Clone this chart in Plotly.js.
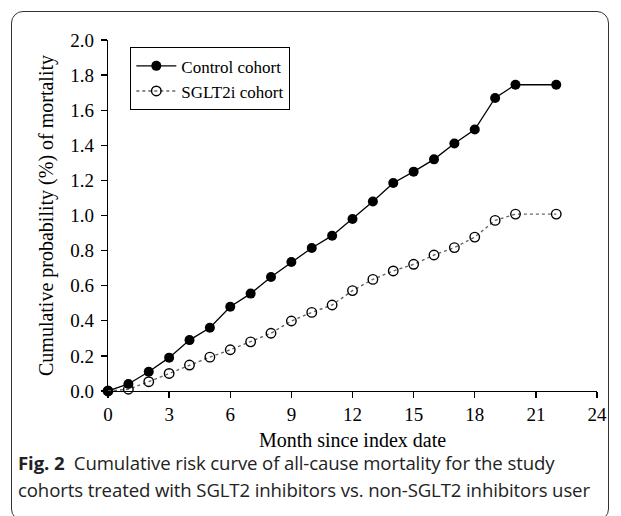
<!DOCTYPE html>
<html>
<head>
<meta charset="utf-8">
<script src="https://cdn.plot.ly/plotly-3.0.1.min.js"></script>
<style>
  html, body { margin: 0; padding: 0; background: #fff; }
  #wrap { position: relative; width: 621px; height: 516px; overflow: hidden; }
  #card { position: absolute; left: 11px; top: 11px; width: 598px; height: 510px; border: 1.5px solid #333; border-radius: 12px; box-sizing: border-box; }
  #chart { position: absolute; left: 0; top: 0; width: 621px; height: 516px; }
  .cap { position: absolute; left: 18px; font-family: "Open Sans", sans-serif; font-size: 18.6px; line-height: 18px; color: #222; white-space: nowrap; letter-spacing: -0.12px; }
</style>
</head>
<body>
<div id="wrap">
  <div id="card"></div>
  <div id="chart"></div>
  <div class="cap" style="top:454px;"><b>Fig. 2</b>&nbsp; Cumulative risk curve of all-cause mortality for the study</div>
  <div class="cap" style="top:481px;">cohorts treated with SGLT2 inhibitors vs. non-SGLT2 inhibitors user</div>
</div>
<script>
const months = [0,1,2,3,4,5,6,7,8,9,10,11,12,13,14,15,16,17,18,19,20,22];
const controlCohort = [0,0.04,0.11,0.19,0.29,0.36,0.48,0.555,0.65,0.735,0.815,0.885,0.98,1.08,1.185,1.25,1.32,1.41,1.49,1.67,1.745,1.745];
const sglt2Cohort = [0,0.01,0.053,0.10,0.148,0.193,0.235,0.28,0.329,0.399,0.448,0.49,0.572,0.636,0.684,0.722,0.775,0.817,0.877,0.972,1.008,1.008];
const seriesNames = ["Control cohort", "SGLT2i cohort"];
const xTicks = [0,3,6,9,12,15,18,21,24];
const yTicks = [0,0.2,0.4,0.6,0.8,1.0,1.2,1.4,1.6,1.8,2.0];

const serif = "Liberation Serif, Times New Roman, serif";

const traces = [
  {
    x: months, y: controlCohort, name: seriesNames[0], type: "scatter", mode: "lines+markers",
    line: {color: "#000", width: 1.3},
    marker: {symbol: "circle", size: 10, color: "#000"},
    cliponaxis: false
  },
  {
    x: months, y: sglt2Cohort, name: seriesNames[1], type: "scatter", mode: "lines+markers",
    line: {color: "#666", width: 1.4, dash: "dot"},
    marker: {symbol: "circle-open", size: 9.5, color: "#000", line: {width: 1.4, color: "#000"}},
    cliponaxis: false
  }
];

const layout = {
  width: 621, height: 516,
  margin: {l: 108, r: 24, t: 40, b: 125},
  paper_bgcolor: "rgba(0,0,0,0)",
  plot_bgcolor: "rgba(0,0,0,0)",
  font: {family: serif, size: 17, color: "#000"},
  showlegend: true,
  legend: {
    x: 0.045, y: 0.98, xanchor: "left", yanchor: "top",
    bgcolor: "#fff", bordercolor: "#000", borderwidth: 1.3,
    font: {family: serif, size: 17, color: "#000"},
    tracegroupgap: 0, itemwidth: 40
  },
  xaxis: {
    range: [0, 24], tickvals: xTicks, ticktext: xTicks.map(String),
    showgrid: false, zeroline: false, showline: true, linecolor: "#000", linewidth: 1.3,
    ticks: "outside", ticklen: 6, tickwidth: 1.3, tickcolor: "#000",
    tickfont: {family: serif, size: 19, color: "#000"},
    title: {text: "Month since index date", font: {family: serif, size: 20, color: "#000"}, standoff: 9},
    automargin: false
  },
  yaxis: {
    range: [0, 2], tickvals: yTicks, ticktext: yTicks.map(v => v.toFixed(1)),
    showgrid: false, zeroline: false, showline: true, linecolor: "#000", linewidth: 1.3,
    ticks: "outside", ticklen: 6, tickwidth: 1.3, tickcolor: "#000",
    tickfont: {family: serif, size: 19, color: "#000"},
    ticklabelstandoff: 3,
    title: {text: "Cumulative probability (%) of mortality", font: {family: serif, size: 20, color: "#000"}, standoff: 11},
    automargin: false
  }
};

Plotly.newPlot("chart", traces, layout, {displayModeBar: false, staticPlot: true});
</script>
</body>
</html>
